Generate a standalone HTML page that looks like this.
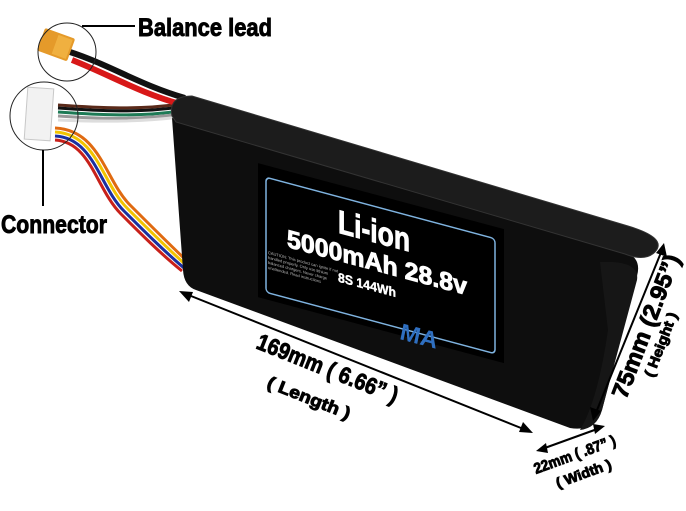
<!DOCTYPE html>
<html><head><meta charset="utf-8"><style>
html,body{margin:0;padding:0;background:#fff;width:686px;height:511px;overflow:hidden}
svg{display:block}
.b{font-family:"Liberation Sans Narrow","Liberation Sans",sans-serif;font-weight:bold;fill:#000;stroke:#000;stroke-width:0.9}
.w{font-family:"Liberation Sans Narrow","Liberation Sans",sans-serif;font-weight:bold;fill:#fff;stroke:#fff;stroke-width:0.9}
</style></head><body>
<svg width="686" height="511" viewBox="0 0 686 511" xmlns="http://www.w3.org/2000/svg">
<path d="M58,105 C100,108 140,110 180,104" stroke="#5a2a1a" stroke-width="3" fill="none"/>
<path d="M58,108 C100,111 140,113 180,107" stroke="#111" stroke-width="3" fill="none"/>
<path d="M58,112 C100,115 140,117 180,111" stroke="#1d7a55" stroke-width="3" fill="none"/>
<path d="M58,116 C100,119 140,120 180,114" stroke="#999" stroke-width="3" fill="none"/>
<path d="M58,120 C100,122 140,122 180,117" stroke="#ddd" stroke-width="3" fill="none"/>
<path d="M55,128 C100,130 105,180 130,205 C150,225 170,245 188,262" stroke="#e06a10" stroke-width="3" fill="none"/>
<path d="M55,132 C97,134 102,183 127,208 C147,228 167,248 186,265" stroke="#f2c400" stroke-width="3" fill="none"/>
<path d="M55,136 C94,138 99,186 124,211 C144,231 164,251 184,268" stroke="#1a2fa0" stroke-width="3" fill="none"/>
<path d="M55,140 C91,142 96,189 121,214 C141,234 161,254 182,271" stroke="#c8201a" stroke-width="3" fill="none"/>
<rect x="26" y="88" width="26" height="52" fill="#f2f2f2" stroke="#c8c8c8" transform="rotate(4 39 114)"/>
<path d="M70,52 C110,65 140,85 185,98" stroke="#111" stroke-width="6" fill="none"/>
<path d="M72,60 C110,75 140,93 180,104" stroke="#d81818" stroke-width="6" fill="none"/>
<g transform="rotate(20 57 45)"><rect x="40" y="33" width="32" height="24" rx="2" fill="#e59a2a"/><rect x="55" y="35" width="15" height="20" fill="#f0b040"/></g>
<circle cx="67" cy="52" r="29" fill="none" stroke="#222" stroke-width="1"/>
<circle cx="44" cy="116" r="34" fill="none" stroke="#222" stroke-width="1"/>
<polyline points="82,26 135,26" stroke="#000" stroke-width="2" fill="none"/>
<line x1="43" y1="150" x2="43" y2="206" stroke="#000" stroke-width="2"/>
<text class="b" x="138" y="36" font-size="25" textLength="134" lengthAdjust="spacingAndGlyphs">Balance lead</text>
<text class="b" x="1" y="233" font-size="25" textLength="106" lengthAdjust="spacingAndGlyphs">Connector</text>
<path d="M172,118 L625,252 Q642,258 637,276 L602,410 Q595,432 570,428 L196,290 Q184,286 183,270 Z" fill="#0e0e0e"/>
<path d="M172,116 Q168,96 192,96 L628,226 Q668,238 655,252 Q645,262 625,254 L176,122 Z" fill="#1c1c1c" stroke="#333" stroke-width="1"/>
<path d="M600,262 Q640,260 637,280 L602,410 Q597,428 580,430 Q598,400 608,330 Z" fill="#161616"/>
<g transform="matrix(1,0.268,0,1,0,0)">
<rect x="258" y="94" width="246" height="134" fill="#000"/>
<rect x="266" y="106" width="229" height="115" rx="4" fill="none" stroke="#7fb3e0" stroke-width="1.5"/>
<text class="w" x="338" y="142" font-size="33" textLength="72" lengthAdjust="spacingAndGlyphs">Li-ion</text>
<text class="w" x="287" y="170" font-size="25" textLength="180" lengthAdjust="spacingAndGlyphs">5000mAh 28.8v</text>
<text class="w" x="338" y="191" font-size="13" textLength="58" lengthAdjust="spacingAndGlyphs" style="stroke-width:0.4">8S 144Wh</text>
<g font-family="Liberation Sans,sans-serif" font-size="4" fill="#bbb">
<text x="268" y="182">CAUTION: This product can ignite if not</text>
<text x="268" y="187">handled properly. Only use lithium</text>
<text x="268" y="192">balanced chargers. Never charge</text>
<text x="268" y="197">unattended. Read instructions</text>
</g>
<text x="400" y="232" font-family="Liberation Sans,sans-serif" font-weight="bold" font-style="italic" font-size="24" fill="#2f6fc0">MA</text>
</g>
<line x1="186" y1="294" x2="526" y2="430" stroke="#000" stroke-width="2"/>
<polygon points="179,291 193,292 189,302" fill="#000"/>
<polygon points="533,433 519,432 523,422" fill="#000"/>
<text class="b" font-size="23" transform="translate(255,348) rotate(21.7)" textLength="150" lengthAdjust="spacingAndGlyphs">169mm ( 6.66” )</text>
<text class="b" font-size="17" transform="translate(266,387) rotate(21.7)" textLength="88" lengthAdjust="spacingAndGlyphs">( Length )</text>
<line x1="662" y1="250" x2="595" y2="415" stroke="#000" stroke-width="2"/>
<polygon points="664,243 667,257 656,253" fill="#000"/>
<polygon points="593,421 590,407 601,411" fill="#000"/>
<text class="b" font-size="23" transform="translate(626,400) rotate(-69)" textLength="152" lengthAdjust="spacingAndGlyphs">75mm (2.95”)</text>
<text class="b" font-size="14" transform="translate(653,378) rotate(-69)" textLength="68" lengthAdjust="spacingAndGlyphs">( Height )</text>
<line x1="542" y1="449" x2="600" y2="428" stroke="#000" stroke-width="2"/>
<polygon points="536,451 546,443 548,453" fill="#000"/>
<polygon points="605,426 595,434 593,424" fill="#000"/>
<text class="b" font-size="15" transform="translate(536,474) rotate(-20)" textLength="86" lengthAdjust="spacingAndGlyphs">22mm (  .87”  )</text>
<text class="b" font-size="14" transform="translate(558,488) rotate(-20)" textLength="58" lengthAdjust="spacingAndGlyphs">( Width )</text>
</svg>
</body></html>
